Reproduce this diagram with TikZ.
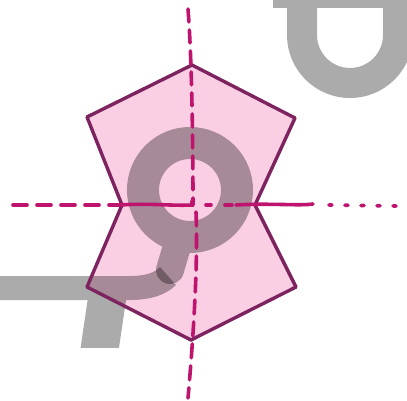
\documentclass[tikz,border=0pt]{standalone}
\usetikzlibrary{calc}
\definecolor{shapefill}{RGB}{250,207,228}
\definecolor{shapeline}{RGB}{125,35,95}
\definecolor{axisline}{RGB}{190,20,110}
\begin{document}
\begin{tikzpicture}[x=1pt,y=-1pt,
  outline/.style={draw=shapeline,line width=3.4pt,line join=round},
  axis/.style={draw=axisline,line width=3.6pt,line cap=round},
  wmark/.style={line width=30pt,draw=black},
]
\useasboundingbox (0,0) rectangle (407,401);
\fill[white] (0,0) rectangle (407,401);
% vertices
\coordinate (T) at (192,65);
\coordinate (UR) at (295,118);
\coordinate (RW) at (255,205);
\coordinate (LR) at (296,287);
\coordinate (B) at (191,340);
\coordinate (LL) at (87,287);
\coordinate (LW) at (122,205);
\coordinate (UL) at (87,117);
\fill[shapefill] (T) -- (UR) -- (RW) -- (LR) -- (B) -- (LL) -- (LW) -- (UL) -- cycle;
% watermark
\begin{scope}
\clip (0,0) rectangle (407,347);
\begin{scope}[transparency group,opacity=0.33]
  \draw[wmark,line width=32pt] (190,190) circle (47);
  \draw[wmark,line cap=round,line width=28pt] (180,236) -- (170,270);
\end{scope}
\begin{scope}[transparency group,opacity=0.33]
  \draw[wmark,line width=24pt] (-10,288) -- (130,288) .. controls (148,288) and (160,284) .. (168,276);
  \draw[wmark,line width=38pt] (108,292) -- (98,360);
\end{scope}
\begin{scope}[transparency group,opacity=0.33]
  \draw[wmark] (273,-7) -- (420,-7);
  \draw[wmark] (302,-10) -- (302,35) arc[start angle=180,end angle=0,radius=48] -- (398,-10);
\end{scope}
\end{scope}
\draw[outline] (T) -- (UR) -- (RW) -- (LR) -- (B) -- (LL) -- (LW) -- (UL) -- cycle;
% vertical axis
\draw[axis,dash pattern=on 13pt off 8pt] (188,9) .. controls (192,60) and (193,150) .. (193,205);
\draw[axis,dash pattern=on 14pt off 8pt] (196,212) .. controls (198,260) and (194,330) .. (188,398);
% horizontal axis
\coordinate (H0) at (13,205);
\coordinate (H1) at (120,205);
\coordinate (H2) at (192,205);
\draw[axis,dash pattern=on 14pt off 10pt] (H0) -- (H1);
\draw[axis] (H1) .. controls (150,203) and (170,206) .. (H2) -- (192,201);
\draw[axis] (206,205) -- (211,205);
\draw[axis] (225,205) -- (232,205);
\draw[axis] (236,205) .. controls (270,203) and (300,206) .. (313,204);
\draw[axis,dash pattern=on 3pt off 13pt] (329,205) -- (397,206);
\end{tikzpicture}
\end{document}
